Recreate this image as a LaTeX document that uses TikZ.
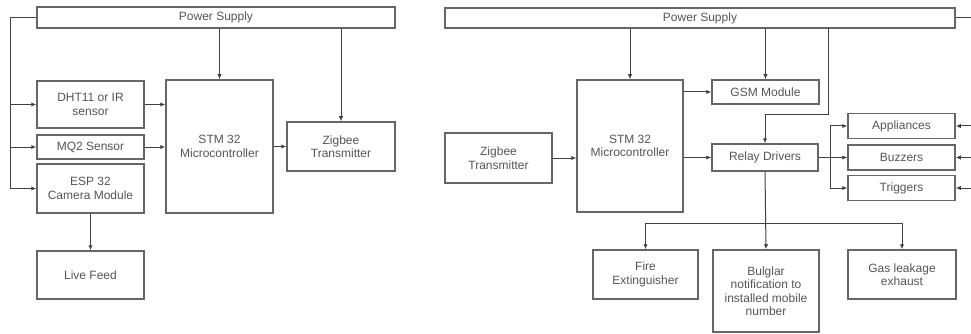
\documentclass[tikz,border=0pt]{standalone}
\usepackage{fontspec}
\setmainfont{Liberation Sans}
\usetikzlibrary{arrows.meta}
\definecolor{boxgray}{HTML}{666666}
\definecolor{linegray}{HTML}{404040}
\definecolor{textgray}{HTML}{555555}
\tikzset{
  blk/.style={draw=boxgray, line width=1.5pt, inner sep=1pt, align=center,
    text=textgray, font=\fontsize{12}{13.5}\selectfont},
  arr/.style={draw=linegray, line width=1pt, -{Latex[length=5pt,width=4.5pt]}},
  ln/.style={draw=linegray, line width=1pt}
}
\begin{document}
\begin{tikzpicture}[x=1pt,y=-1pt]
\useasboundingbox (0,0) rectangle (971,334);
\node[blk, minimum width=358, minimum height=21] (pwrL) at (216,17.5) {Power Supply};
\node[blk, minimum width=107, minimum height=47] (dht) at (90.5,104.5) {DHT11 or IR\\sensor};
\node[blk, minimum width=107, minimum height=24] (mq) at (90.5,147) {MQ2 Sensor};
\node[blk, minimum width=107, minimum height=49] (esp) at (90.5,188.5) {ESP 32\\Camera Module};
\node[blk, minimum width=107, minimum height=48] (live) at (90.5,275) {Live Feed};
\node[blk, minimum width=107, minimum height=133] (stmL) at (219.5,146.5) {STM 32\\Microcontroller};
\node[blk, minimum width=108, minimum height=49] (zigL) at (341,146.5) {Zigbee\\Transmitter};
\coordinate (lcorner) at (10,17.5);
\draw[ln] (pwrL.west) -- (lcorner);
\draw[arr] (lcorner) |- (esp.west);
\draw[arr] (lcorner |- dht.west) -- (dht.west);
\draw[arr] (lcorner |- mq.west) -- (mq.west);
\draw[arr] (dht.east) -- (dht.east -| stmL.west);
\draw[arr] (mq.east) -- (mq.east -| stmL.west);
\draw[arr] (stmL.north |- pwrL.south) -- (stmL.north);
\draw[arr] (zigL.north |- pwrL.south) -- (zigL.north);
\draw[arr] (stmL.east |- zigL.west) -- (zigL.west);
\draw[arr] (esp.south) -- (live.north);
\node[blk, minimum width=510, minimum height=20] (pwrR) at (700,18) {Power Supply};
\node[blk, minimum width=107, minimum height=50] (zigR) at (498.5,158) {Zigbee\\Transmitter};
\node[blk, minimum width=106, minimum height=132] (stmR) at (630,146) {STM 32\\Microcontroller};
\node[blk, minimum width=107, minimum height=24] (gsm) at (765.5,92) {GSM Module};
\node[blk, minimum width=106, minimum height=27] (relay) at (765,157.5) {Relay Drivers};
\node[blk, minimum width=107, minimum height=25] (app) at (901.5,126) {Appliances};
\node[blk, minimum width=107, minimum height=25] (buz) at (901.5,157.5) {Buzzers};
\node[blk, minimum width=107, minimum height=25] (trig) at (901.5,188) {Triggers};
\node[blk, minimum width=105, minimum height=49] (fire) at (645.5,274.5) {Fire\\Extinguisher};
\node[blk, minimum width=106, minimum height=82] (burg) at (766,291) {Bulglar\\notification to\\installed mobile\\number};
\node[blk, minimum width=108, minimum height=49] (gas) at (902,274.5) {Gas leakage\\exhaust};
\coordinate (redge) at (971,0);
\coordinate (tap) at (828,28);
\coordinate (split) at (830,157.5);
\coordinate (bbus) at (766,223);
\draw[arr] (stmR.north |- pwrR.south) -- (stmR.north);
\draw[arr] (gsm.north |- pwrR.south) -- (gsm.north);
\draw[arr] (tap) -- ++(0,87) -| (relay.north);
\draw[arr] (gsm.west -| stmR.east) -- (gsm.west);
\draw[arr] (relay.west -| stmR.east) -- (relay.west);
\draw[arr] (zigR.east) -- (zigR.east -| stmR.west);
\draw[ln] (relay.east) -- (split);
\draw[arr] (split) |- (app.west);
\draw[arr] (split) -- (buz.west);
\draw[arr] (split) |- (trig.west);
\draw[ln] (pwrR.east) -- (pwrR.east -| redge);
\draw[arr] (redge |- app.east) -- (app.east);
\draw[arr] (redge |- buz.east) -- (buz.east);
\draw[arr] (redge |- trig.east) -- (trig.east);
\draw[arr] (relay.south) -- (burg.north);
\draw[ln] (fire.north |- bbus) -- (gas.north |- bbus);
\draw[arr] (fire.north |- bbus) -- (fire.north);
\draw[arr] (gas.north |- bbus) -- (gas.north);
\end{tikzpicture}
\end{document}
